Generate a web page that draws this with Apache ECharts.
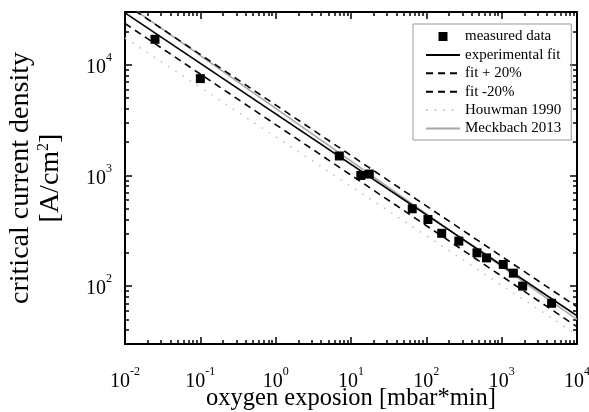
<!DOCTYPE html>
<html><head><meta charset="utf-8">
<script src="https://cdn.jsdelivr.net/npm/echarts@6/dist/echarts.min.js"></script>
<style>html,body{margin:0;padding:0;background:#fff}#c{width:589px;height:412px}</style>
</head><body><div id="c"></div>
<script>
// ---- data ----
const measuredX = [0.025, 0.1, 7, 13.5, 17.5, 65, 105, 160, 270, 470, 630, 1050, 1430, 1900, 4600];
const measuredY = [17000, 7500, 1500, 1000, 1030, 500, 400, 300, 255, 200, 180, 157, 131, 100, 70];
const lineX = [0.01, 10000];
const fitY = [29500, 54];
const fitPlusY = [35400, 65];
const fitMinusY = [23600, 43];
const houwmanY = [17500, 36.4];
const meckbachY = [36300, 50];
const xTickExp = [-2, -1, 0, 1, 2, 3, 4];
const yTickExp = [2, 3, 4];
const seriesNames = ['measured data', 'experimental fit', 'fit + 20%', 'fit -20%', 'Houwman 1990', 'Meckbach 2013'];
const xRange = [0.01, 10000];
const yRange = [30, 30000];

// ---- helpers ----
const FONT = 'Liberation Serif, Times New Roman, serif';
const zip = (xs, ys) => xs.map((x, i) => [x, ys[i]]);
function minorExps(lo, hi) {
  const out = [];
  for (let d = Math.floor(lo); d <= Math.ceil(hi); d++) {
    for (let m = 2; m <= 9; m++) {
      const v = d + Math.log10(m);
      if (v > lo + 1e-9 && v < hi - 1e-9) out.push(v);
    }
  }
  return out;
}
const xLo = Math.log10(xRange[0]), xHi = Math.log10(xRange[1]);
const yLo = Math.log10(yRange[0]), yHi = Math.log10(yRange[1]);
const xMinor = minorExps(xLo, xHi);
const yMinor = minorExps(yLo, yHi);

const labelRich = {
  b: { fontFamily: FONT, fontSize: 20, color: '#000', lineHeight: 26, verticalAlign: 'bottom' },
  s: { fontFamily: FONT, fontSize: 12, color: '#000', lineHeight: 12, verticalAlign: 'top' }
};
const powFmt = v => '{b|10}{s|' + Math.round(v) + '}';
const black = { color: '#000', width: 2 };

function tickAxis(pos, lo, hi, kind, extra) {
  const major = kind === 'major';
  const isX = pos === 'bottom' || pos === 'top';
  const ticks = major ? (isX ? xTickExp : yTickExp) : (isX ? xMinor : yMinor);
  return Object.assign({
    type: 'value', min: lo, max: hi, position: pos, gridIndex: 0,
    axisLine: { show: major, onZero: false, lineStyle: black },
    axisTick: { show: true, inside: true, length: major ? 7 : 4, customValues: ticks, lineStyle: { color: '#000', width: 1.5 } },
    axisLabel: { show: false },
    splitLine: { show: false }
  }, extra || {});
}
const hiddenLog = (lo, hi) => ({
  type: 'log', logBase: 10, min: lo, max: hi,
  axisLine: { show: false }, axisTick: { show: false }, axisLabel: { show: false }, splitLine: { show: false }
});
const noSymbol = { opacity: 0 };

const chart = echarts.init(document.getElementById('c'), null, { renderer: 'canvas' });
chart.setOption({
  animation: false,
  backgroundColor: '#fff',
  grid: { left: 125, right: 12, top: 12, bottom: 68, containLabel: false, outerBoundsMode: 'none' },
  xAxis: [
    hiddenLog(xRange[0], xRange[1]),
    tickAxis('bottom', xLo, xHi, 'major', {
      axisLabel: { show: true, customValues: xTickExp, formatter: powFmt, rich: labelRich, margin: 22 },
      name: 'oxygen exposion [mbar*min]', nameLocation: 'middle', nameGap: 42, nameMoveOverlap: false,
      nameTextStyle: { fontFamily: FONT, fontSize: 24.5, color: '#000' }
    }),
    tickAxis('bottom', xLo, xHi, 'minor'),
    tickAxis('top', xLo, xHi, 'major'),
    tickAxis('top', xLo, xHi, 'minor')
  ],
  yAxis: [
    hiddenLog(yRange[0], yRange[1]),
    tickAxis('left', yLo, yHi, 'major', {
      axisLabel: { show: true, customValues: yTickExp, formatter: powFmt, rich: labelRich, margin: 13 },
      name: 'critical current density\n[A/cm{s|2}]', nameLocation: 'middle', nameGap: 59, nameRotate: 90,
      nameTextStyle: { fontFamily: FONT, fontSize: 28, color: '#000', lineHeight: 30, align: 'center',
        rich: { s: { fontFamily: FONT, fontSize: 16, color: '#000', verticalAlign: 'top', lineHeight: 16 } } }
    }),
    tickAxis('left', yLo, yHi, 'minor'),
    tickAxis('right', yLo, yHi, 'major'),
    tickAxis('right', yLo, yHi, 'minor')
  ],
  legend: {
    orient: 'vertical', left: 413, top: 24,
    itemWidth: 34, itemHeight: 14, itemGap: 3.4,
    padding: [5, 10, 4, 12],
    borderColor: '#999', borderWidth: 1,
    textStyle: { fontFamily: FONT, fontSize: 15, color: '#000' },
    data: [
      { name: seriesNames[0], icon: 'path://M0,0M34,14M12.5,2.5h9v9h-9z' },
      { name: seriesNames[1], itemStyle: noSymbol },
      { name: seriesNames[2], itemStyle: noSymbol },
      { name: seriesNames[3], itemStyle: noSymbol },
      { name: seriesNames[4], itemStyle: noSymbol },
      { name: seriesNames[5], itemStyle: noSymbol }
    ]
  },
  series: [
    { name: seriesNames[4], type: 'line', xAxisIndex: 0, yAxisIndex: 0, data: zip(lineX, houwmanY), symbol: 'none',
      lineStyle: { color: '#c4c4c4', width: 1.6, type: [1.6, 7] }, itemStyle: { color: '#c4c4c4' } },
    { name: seriesNames[5], type: 'line', xAxisIndex: 0, yAxisIndex: 0, data: zip(lineX, meckbachY), symbol: 'none',
      lineStyle: { color: '#a8a8a8', width: 1.6, type: 'solid' }, itemStyle: { color: '#a8a8a8' } },
    { name: seriesNames[2], type: 'line', xAxisIndex: 0, yAxisIndex: 0, data: zip(lineX, fitPlusY), symbol: 'none',
      lineStyle: { color: '#000', width: 1.6, type: [7, 5] }, itemStyle: { color: '#000' } },
    { name: seriesNames[3], type: 'line', xAxisIndex: 0, yAxisIndex: 0, data: zip(lineX, fitMinusY), symbol: 'none',
      lineStyle: { color: '#000', width: 1.6, type: [7, 5] }, itemStyle: { color: '#000' } },
    { name: seriesNames[1], type: 'line', xAxisIndex: 0, yAxisIndex: 0, data: zip(lineX, fitY), symbol: 'none',
      lineStyle: { color: '#000', width: 1.6, type: 'solid' }, itemStyle: { color: '#000' } },
    { name: seriesNames[0], type: 'scatter', xAxisIndex: 0, yAxisIndex: 0, data: zip(measuredX, measuredY),
      symbol: 'rect', symbolSize: 9, itemStyle: { color: '#000', opacity: 1 }, z: 5 }
  ]
});
</script></body></html>
